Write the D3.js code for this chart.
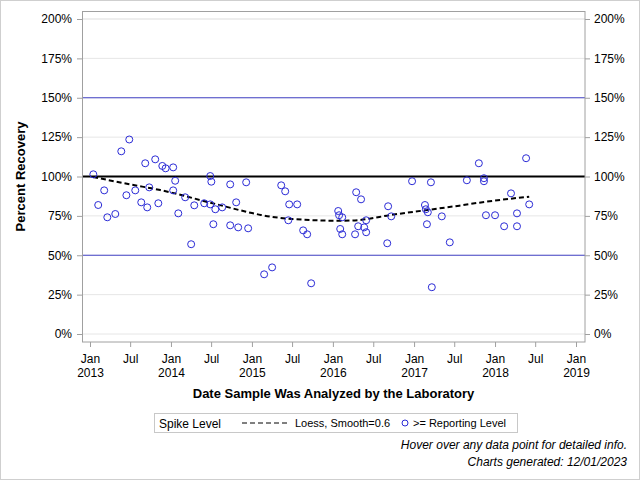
<!DOCTYPE html>
<html>
<head>
<meta charset="utf-8">
<script src="https://cdn.jsdelivr.net/npm/d3@7"></script>
<style>
  body { margin: 0; background: #fff; }
  #chart { width: 640px; height: 480px; }
  text { font-family: "Liberation Sans", Arial, sans-serif; fill: #000; }
  .tick text { font-size: 12px; }
  .tick line { stroke: #a0a0a0; }
</style>
</head>
<body>
<div id="chart"></div>
<script>
// sample analysis dates and percent recovery
const sampleDates = [
  "2013-01-16","2013-02-07","2013-03-06","2013-03-20","2013-04-25","2013-05-22","2013-06-27","2013-06-14",
  "2013-07-24","2013-08-20","2013-09-07","2013-09-16","2013-09-25","2013-10-22","2013-11-05","2013-11-23",
  "2013-12-08","2014-01-11","2014-01-20","2014-01-11","2014-02-03","2014-03-06","2014-04-02","2014-04-16",
  "2014-05-31","2014-06-27","2014-07-02","2014-06-27","2014-07-20","2014-07-11","2014-08-20","2014-09-25",
  "2014-09-25","2014-10-22","2014-10-31","2014-12-06","2014-12-15","2015-02-25","2015-04-02","2015-05-13",
  "2015-05-31","2015-06-18","2015-07-24","2015-06-14","2015-08-20","2015-09-07","2015-09-25","2016-01-25",
  "2016-01-29","2016-02-12","2016-02-03","2016-02-12","2016-04-15","2016-05-07","2016-04-24","2016-04-10",
  "2016-05-21","2016-05-30","2016-05-30","2016-09-06","2016-09-20","2016-09-02","2016-12-23","2017-03-18",
  "2017-02-19","2017-02-23","2017-03-04","2017-02-28","2017-03-22","2017-05-06","2017-06-11","2017-08-27",
  "2017-10-20","2017-11-12","2017-11-12","2017-11-21","2018-01-01","2018-02-11","2018-03-14","2018-04-10",
  "2018-04-10","2018-05-21","2018-06-04"
];
const recoveryPct = [
  101.4, 81.9, 91.2, 74.1, 76.2, 116.0, 123.5, 88.1,
  91.2, 83.6, 108.4, 80.4, 93.1, 110.9, 83.0, 106.7,
  105.2, 105.8, 97.3, 91.2, 76.6, 86.8, 57.0, 81.7,
  83.0, 100.3, 96.7, 82.3, 79.2, 69.7, 80.4, 95.0,
  69.0, 83.6, 67.7, 96.3, 67.1, 37.9, 42.3, 94.4,
  90.6, 82.3, 82.3, 72.2, 65.8, 63.3, 32.2, 78.1,
  75.4, 74.1, 66.7, 63.3, 90.0, 85.5, 68.4, 63.3,
  67.7, 72.2, 64.6, 81.1, 74.7, 57.6, 97.0, 96.3,
  81.9, 79.2, 77.3, 69.7, 29.7, 74.7, 58.2, 97.6,
  108.4, 98.9, 97.0, 75.4, 75.4, 68.4, 89.3, 76.6,
  68.4, 111.6, 82.3
];

// loess fit (smooth = 0.6)
const loessDates = [
  "2013-01-15","2013-06-30","2013-11-14","2014-06-27","2015-01-01","2015-02-10","2015-07-01",
  "2016-02-12","2016-04-30","2016-09-20","2017-02-28","2017-07-24","2017-10-22","2018-06-04"
];
const loessPct = [99.7, 95.0, 91.4, 83.4, 76.8, 75.6, 73.0, 71.9, 72.4, 75.6, 78.7, 81.5, 83.4, 87.2];

const yTicks = [0, 25, 50, 75, 100, 125, 150, 175, 200];
const xTickDates = [
  "2013-01-01","2013-07-01","2014-01-01","2014-07-01","2015-01-01","2015-07-01","2016-01-01",
  "2016-07-01","2017-01-01","2017-07-01","2018-01-01","2018-07-01","2019-01-01"
];
const spikeLevel = [100];
const limitLevels = [50, 150];

function drawChart() {

    /*************************
    ***** SET DIMENSIONS *****
    *************************/

    const width = 640;
    const height = 480;
    const margin = {top: 11, left: 82, right: 55, bottom: 138};
    const plotWidth = width - margin.left - margin.right;
    const plotHeight = height - margin.top - margin.bottom;

    const parse = d3.timeParse("%Y-%m-%d");

    const svg = d3.select("#chart")
        .append("svg")
        .attr("width", width)
        .attr("height", height);

    // outer border
    svg.append("rect")
        .attr("x", 0.5).attr("y", 0.5)
        .attr("width", width - 1).attr("height", height - 1)
        .attr("fill", "none")
        .attr("stroke", "#cfcfcf");

    const g = svg.append("g")
        .attr("transform", `translate(${margin.left},${margin.top})`);

    /*****************
    ***** SCALES *****
    *****************/

    const x = d3.scaleTime()
        .domain([parse("2013-01-01"), parse("2019-01-01")])
        .range([8, plotWidth - 9]);

    const y = d3.scaleLinear()
        .domain([0, 200])
        .range([plotHeight - 8, 8]);

    /**********************
    ***** GRID & REFS *****
    **********************/

    g.append("g")
        .selectAll("line")
        .data(yTicks)
        .join("line")
        .attr("x1", 0).attr("x2", plotWidth)
        .attr("y1", d => y(d)).attr("y2", d => y(d))
        .attr("stroke", d => d === 200 ? "#eeeeee" : "#e6e6e6")
        .attr("stroke-width", d => d === 200 ? 2 : 1);

    g.append("g")
        .selectAll("line")
        .data(limitLevels)
        .join("line")
        .attr("x1", 0).attr("x2", plotWidth)
        .attr("y1", d => y(d)).attr("y2", d => y(d))
        .attr("stroke", "#4646c8")
        .attr("stroke-width", 1);

    g.append("g")
        .selectAll("line")
        .data(spikeLevel)
        .join("line")
        .attr("x1", 0).attr("x2", plotWidth)
        .attr("y1", d => y(d)).attr("y2", d => y(d))
        .attr("stroke", "#000")
        .attr("stroke-width", 2);

    /*****************
    ***** LOESS ******
    *****************/

    const loess = loessDates.map((d, i) => ({date: parse(d), pct: loessPct[i]}));

    g.append("path")
        .datum(loess)
        .attr("fill", "none")
        .attr("stroke", "#000")
        .attr("stroke-width", 2)
        .attr("stroke-dasharray", "5,3")
        .attr("d", d3.line()
            .x(d => x(d.date))
            .y(d => y(d.pct))
            .curve(d3.curveMonotoneX));

    /******************
    ***** POINTS ******
    ******************/

    const samples = sampleDates.map((d, i) => ({date: parse(d), pct: recoveryPct[i]}));

    g.append("g")
        .selectAll("circle")
        .data(samples)
        .join("circle")
        .attr("cx", d => x(d.date))
        .attr("cy", d => y(d.pct))
        .attr("r", 3.5)
        .attr("fill", "none")
        .attr("stroke", "#2a2ad6")
        .attr("stroke-width", 1);

    /***************
    ***** AXES *****
    ***************/

    const yLeft = g.append("g")
        .call(d3.axisLeft(y).tickValues(yTicks).tickSize(5).tickPadding(5).tickFormat(d => d + "%"));
    yLeft.select(".domain").remove();

    const yRight = g.append("g")
        .attr("transform", `translate(${plotWidth},0)`)
        .call(d3.axisRight(y).tickValues(yTicks).tickSize(5).tickPadding(4).tickFormat(d => d + "%"));
    yRight.select(".domain").remove();

    const xAxis = g.append("g")
        .attr("transform", `translate(0,${plotHeight})`)
        .call(d3.axisBottom(x).tickValues(xTickDates.map(parse)).tickSize(5).tickPadding(7)
            .tickFormat(d3.timeFormat("%b")));
    xAxis.select(".domain").remove();
    xAxis.selectAll(".tick text")
        .each(function(d) {
            if (d.getMonth() === 0) {
                d3.select(this).append("tspan")
                    .attr("x", 0)
                    .attr("dy", 14)
                    .text(d.getFullYear());
            }
        });

    // plot frame
    g.append("rect")
        .attr("x", 0.5).attr("y", 0.5)
        .attr("width", plotWidth - 0.5).attr("height", plotHeight - 0.5)
        .attr("fill", "none")
        .attr("stroke", "#a0a0a0");

    /*****************************
    ***** AXIS LABELS & TEXT *****
    *****************************/

    svg.append("text")
        .attr("transform", `translate(25,${margin.top + plotHeight / 2}) rotate(-90)`)
        .attr("text-anchor", "middle")
        .style("font-size", "13px")
        .style("font-weight", "bold")
        .text("Percent Recovery");

    svg.append("text")
        .attr("x", margin.left + plotWidth / 2)
        .attr("y", 398)
        .attr("text-anchor", "middle")
        .style("font-size", "13px")
        .style("font-weight", "bold")
        .text("Date Sample Was Analyzed by the Laboratory");

    // legend
    const legend = svg.append("g").attr("transform", "translate(154,413)");
    legend.append("rect")
        .attr("x", 0.5).attr("y", 0.5)
        .attr("width", 363).attr("height", 19)
        .attr("fill", "#fff")
        .attr("stroke", "#c8c8c8");
    legend.append("text")
        .attr("x", 5).attr("y", 14.5)
        .style("font-size", "12px")
        .text("Spike Level");
    legend.append("line")
        .attr("x1", 88).attr("x2", 136)
        .attr("y1", 10).attr("y2", 10)
        .attr("stroke", "#000")
        .attr("stroke-width", 1)
        .attr("stroke-dasharray", "5,3");
    legend.append("text")
        .attr("x", 141).attr("y", 14)
        .style("font-size", "11px")
        .text("Loess, Smooth=0.6");
    legend.append("circle")
        .attr("cx", 251).attr("cy", 10)
        .attr("r", 3)
        .attr("fill", "none")
        .attr("stroke", "#2a2ad6");
    legend.append("text")
        .attr("x", 259).attr("y", 14)
        .style("font-size", "11px")
        .text(">= Reporting Level");

    // footnotes
    svg.append("text")
        .attr("x", 627).attr("y", 449)
        .attr("text-anchor", "end")
        .style("font-size", "12px")
        .style("font-style", "italic")
        .text("Hover over any data point for detailed info.");
    svg.append("text")
        .attr("x", 627).attr("y", 466)
        .attr("text-anchor", "end")
        .style("font-size", "12px")
        .style("font-style", "italic")
        .text("Charts generated: 12/01/2023");
}

drawChart();
</script>
</body>
</html>
